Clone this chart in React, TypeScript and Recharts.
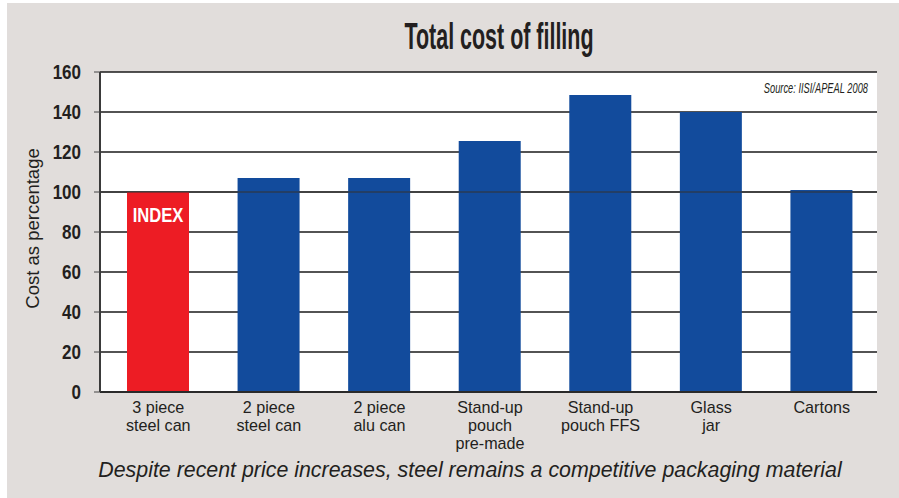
import { BarChart, Bar, XAxis, YAxis, CartesianGrid, Cell, LabelList, ReferenceLine } from "recharts";

const categories = [
  "3 piece\nsteel can",
  "2 piece\nsteel can",
  "2 piece\nalu can",
  "Stand-up\npouch\npre-made",
  "Stand-up\npouch FFS",
  "Glass\njar",
  "Cartons",
];
const costs = [100, 107, 107, 125.5, 148.5, 140, 101];
const barLabels = ["INDEX", "", "", "", "", "", ""];
const yTicks = [0, 20, 40, 60, 80, 100, 120, 140, 160];

const data = categories.map((c, i) => ({ name: c, cost: costs[i], label: barLabels[i] }));

// no narrow face installed, so squeeze the regular one horizontally
const SANS = "'Liberation Sans', Arial, sans-serif";
const GRAY = "#e1dddb";
const BLUE = "#124b9c";
const RED = "#ed1c24";
const INK = "#231f20";

function CategoryTick({ x, y, payload }: any) {
  const lines = String(payload.value).split("\n");
  return (
    <g transform={`translate(${x},${y}) scale(0.95,1)`}>
      <text x={0} y={0} textAnchor="middle" fill={INK} fontFamily={SANS} fontSize={17}>
        {lines.map((l, i) => (
          <tspan key={i} x={0} dy={i === 0 ? 21 : 18}>
            {l}
          </tspan>
        ))}
      </text>
    </g>
  );
}

function ValueTick({ x, y, payload }: any) {
  return (
    <g transform={`translate(${x},${y}) scale(0.85,1)`}>
      <text x={0} y={0} dy={7} textAnchor="end" fill={INK} fontFamily={SANS} fontWeight="bold" fontSize={20}>
        {payload.value}
      </text>
    </g>
  );
}

function IndexLabel(props: any) {
  const { x, y, width, value } = props;
  if (!value) return null;
  return (
    <g transform={`translate(${x + width / 2},${y + 30}) scale(0.83,1)`}>
      <text x={0} y={0} textAnchor="middle" fill="#fff" fontFamily={SANS} fontWeight="bold" fontSize={20}>
        {value}
      </text>
    </g>
  );
}

export default function App() {
  return (
    <div style={{ position: "absolute", left: 0, top: 0, width: 899, height: 498, background: "#fff", overflow: "hidden" }}>
      <div style={{ position: "absolute", left: 7, top: 3, right: 0, bottom: 0, background: GRAY }} />
      <div style={{ position: "absolute", left: 0, top: 0 }}>
        <BarChart width={899} height={498} data={data} margin={{ top: 72, right: 22, bottom: 46, left: 0 }} barSize={62}>
          <CartesianGrid vertical={false} stroke="#1a1a1a" strokeWidth={1.5} fill="#fff" fillOpacity={1} />
          <XAxis
            dataKey="name"
            interval={0}
            height={60}
            padding={{ left: 3, right: 0 }}
            tickSize={0}
            tickMargin={0}
            tickLine={false}
            axisLine={{ stroke: "#2a2a2a", strokeWidth: 2 }}
            tick={<CategoryTick />}
          />
          <YAxis
            width={100}
            domain={[0, 160]}
            ticks={yTicks}
            interval={0}
            tickSize={6}
            tickMargin={13}
            tickLine={{ stroke: "#444" }}
            axisLine={{ stroke: "#3a3a3a", strokeWidth: 2 }}
            tick={<ValueTick />}
          />
          <YAxis
            yAxisId="right"
            orientation="right"
            width={0}
            domain={[0, 160]}
            tick={false}
            tickLine={false}
            axisLine={{ stroke: "#1a1a1a", strokeWidth: 2 }}
          />
          <Bar dataKey="cost" isAnimationActive={false}>
            {data.map((d, i) => (
              <Cell key={i} fill={i === 0 ? RED : BLUE} />
            ))}
            <LabelList dataKey="label" content={<IndexLabel />} />
          </Bar>
          <ReferenceLine y={100} stroke="#333" strokeWidth={1.5} strokeOpacity={0.7} />
        </BarChart>
      </div>
      <svg width={899} height={498} style={{ position: "absolute", left: 0, top: 0, pointerEvents: "none" }}>
        <g transform="translate(499,49) scale(0.58,1)">
          <text x={0} y={0} textAnchor="middle" fill={INK} fontFamily={SANS} fontWeight="bold" fontSize={37}>
            Total cost of filling
          </text>
        </g>
        <g transform="translate(868,93) scale(0.62,1)">
          <text x={0} y={0} textAnchor="end" fill={INK} fontFamily={SANS} fontStyle="italic" fontSize={15}>
            Source: IISI/APEAL 2008
          </text>
        </g>
        <text transform="translate(38.5,228.5) rotate(-90)" textAnchor="middle" fill={INK} fontFamily={SANS} fontSize={18.5}>
          Cost as percentage
        </text>
        <g transform="translate(470,477) scale(0.93,1)">
          <text x={0} y={0} textAnchor="middle" fill={INK} fontFamily={SANS} fontStyle="italic" fontSize={23}>
            Despite recent price increases, steel remains a competitive packaging material
          </text>
        </g>
      </svg>
    </div>
  );
}
